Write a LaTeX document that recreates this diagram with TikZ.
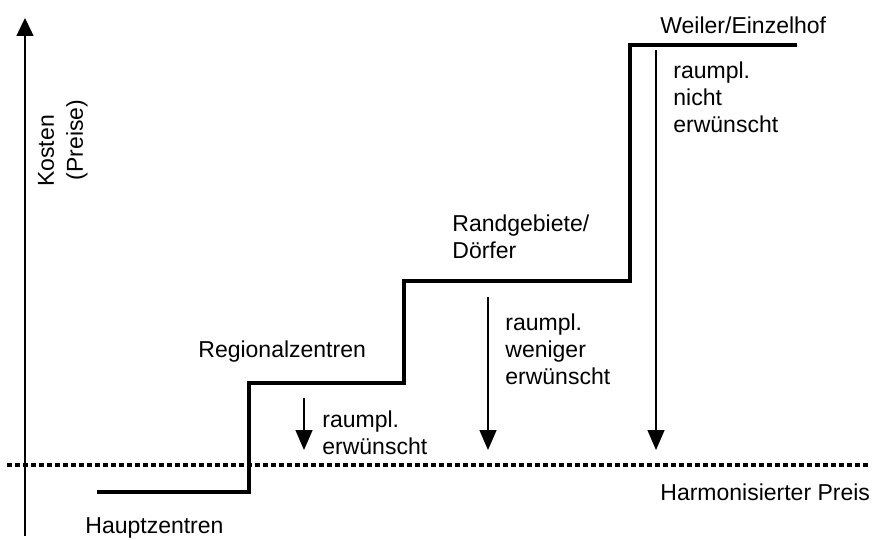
\documentclass[tikz,border=0pt]{standalone}
\usepackage{fontspec}
\setmainfont{Liberation Sans}
\usetikzlibrary{arrows.meta, positioning}

\begin{document}
\begin{tikzpicture} [x = 0.5pt, y = -0.5pt, font = \fontsize{11.5}{13.5}\selectfont,
    label/.style = {anchor = west, inner sep = 0pt, align = left},
    stair/.style = {line width = 2pt, line join = miter},
    drop/.style = {-{Triangle[width = 8.5pt, length = 10pt]}, line width = 0.7pt}]
    \useasboundingbox (0,0) rectangle (874,540);

    \coordinate (s0) at (97,492);
    \coordinate (s1) at (249,492);
    \coordinate (s2) at (249,383);
    \coordinate (s3) at (404,383);
    \coordinate (s4) at (404,281);
    \coordinate (s5) at (630,281);
    \coordinate (s6) at (630,45);
    \coordinate (s7) at (797,45);

    \coordinate (ax0) at (25,536);
    \coordinate (ax1) at (25,18);
    \coordinate (h0) at (7,465);
    \coordinate (h1) at (868,465);

    \coordinate (a1) at (304,398);
    \coordinate (b1) at (304,450);
    \coordinate (a2) at (488,297);
    \coordinate (b2) at (488,450);
    \coordinate (a3) at (656,50);
    \coordinate (b3) at (656,450);

    \node (kosten) [rotate = 90, inner sep = 0pt] at (46,151) {Kosten};
    \node (preise) [rotate = 90, inner sep = 0pt] at (77,140) {(Preise)};
    \node (haupt) [label] at (85,528) {Hauptzentren};
    \node (regio) [label] at (198,352) {Regionalzentren};
    \node (rand) [label] at (452,237) {Randgebiete/\\Dörfer};
    \node (weiler) [label] at (660,25) {Weiler/Einzelhof};
    \node (harm) [label] at (660,492) {Harmonisierter Preis};
    \node (t1) [label] at (322,433) {raumpl.\\erwünscht};
    \node (t2) [label] at (505,349) {raumpl.\\weniger\\erwünscht};
    \node (t3) [label] at (673,97) {raumpl.\\nicht\\erwünscht};

    \draw[-{Triangle[width = 8.5pt, length = 9pt]}, line width = 0.75pt] (ax0) -- (ax1);
    \draw[line width = 1.6pt, dash pattern = on 2.6pt off 1.4pt] (h0) -- (h1);
    \draw[stair] (s0) -- (s1) -- (s2) -- (s3) -- (s4) -- (s5) -- (s6) -- (s7);

    \draw[drop] (a1) -- (b1);
    \draw[drop] (a2) -- (b2);
    \draw[drop] (a3) -- (b3);
\end{tikzpicture}
\end{document}
